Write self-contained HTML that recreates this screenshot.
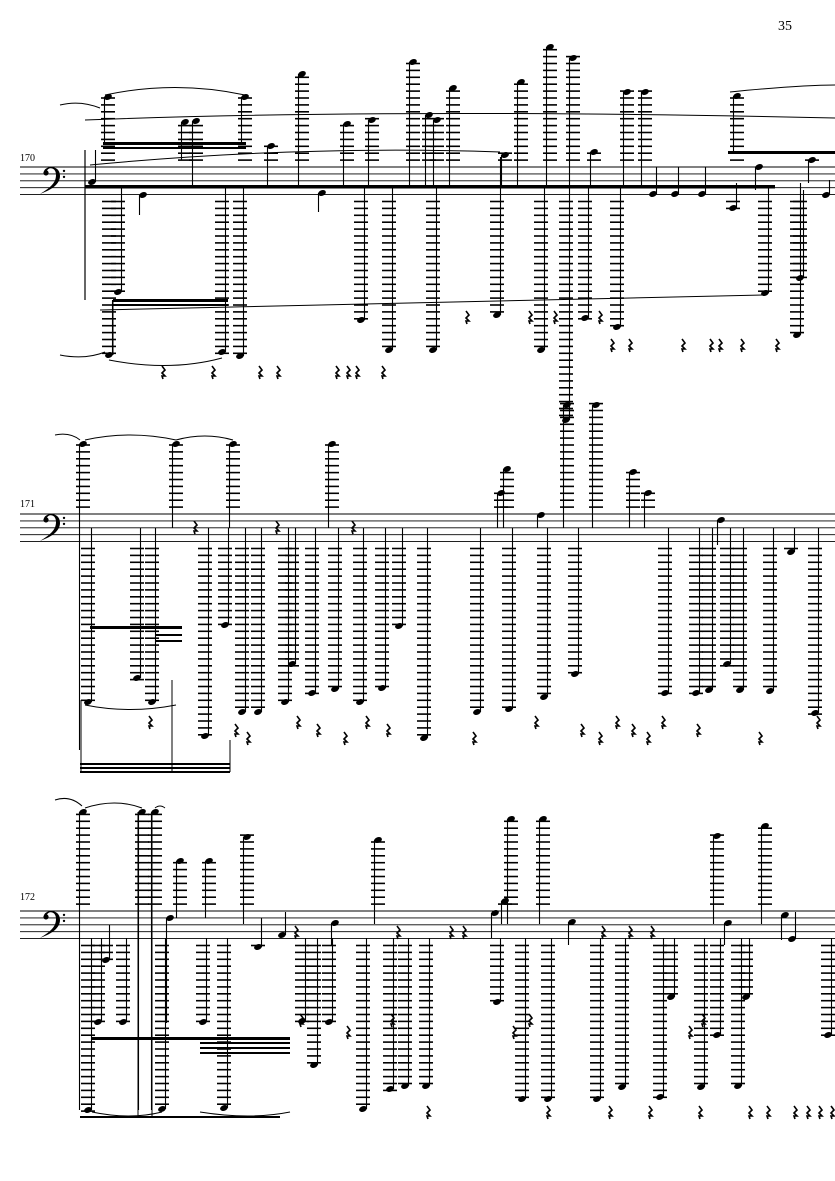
<!DOCTYPE html>
<html><head><meta charset="utf-8"><style>
html,body{margin:0;padding:0;background:#fff;width:835px;height:1181px;overflow:hidden}
svg{display:block}
text{font-family:"Liberation Serif",serif}
</style></head><body>
<svg id="s" width="835" height="1181" viewBox="0 0 835 1181" xmlns="http://www.w3.org/2000/svg">
<text x="778" y="30" font-size="14">35</text>
<text x="20" y="161" font-size="10">170</text>
<text x="20" y="507" font-size="10">171</text>
<text x="20" y="900" font-size="10">172</text>
</svg>
<script>
var S=document.getElementById('s'),ns='http://www.w3.org/2000/svg',h='';
var SP=6.9;
function L(x1,y1,x2,y2,w){h+='<line x1="'+x1+'" y1="'+y1+'" x2="'+x2+'" y2="'+y2+'" stroke="#000" stroke-width="'+(w||1)+'"/>';}
function staff(T){for(var i=0;i<5;i++)L(20,T+i*SP,835,T+i*SP,0.9);
 var c=T+SP;h+='<path d="M'+(44)+','+(c-2)+' C44,'+(c-8)+' 60,'+(c-10)+' 60,'+(c+2)+' C60,'+(c+10)+' 52,'+(c+16)+' 40,'+(c+20)+' C52,'+(c+13)+' 56,'+(c+8)+' 56,'+(c+1)+' C56,'+(c-7)+' 48,'+(c-7)+' 47,'+(c-3)+'Z" fill="#000"/><circle cx="46" cy="'+(c-1)+'" r="2.6"/><circle cx="64" cy="'+(c-3)+'" r="1.2"/><circle cx="64" cy="'+(c+3)+'" r="1.2"/>';}
function N(T,x,y,to){var B=T+4*SP;
 h+='<ellipse cx="'+x+'" cy="'+y+'" rx="4" ry="2.8" transform="rotate(-20 '+x+' '+y+')"/>';
 var sx=to<y?x+3.5:x-3.5;L(sx,y,sx,to,1.1);
 if(y<T-3){for(var ly=T-SP;ly>=y-2;ly-=SP)L(x-7,ly,x+7,ly,1.6);}
 if(y>B+3){for(var ly=B+SP;ly<=y+2;ly+=SP)L(x-7,ly,x+7,ly,1.6);}
}
function R(x,y){h+='<path d="M'+(x-1)+','+(y-6)+' l3,4 l-3,3 l3,3 l-3,0 l1,3" stroke="#000" stroke-width="1.6" fill="none"/>';}
function BM(x1,y,x2,t){h+='<rect x="'+x1+'" y="'+y+'" width="'+(x2-x1)+'" height="'+(t||3)+'"/>';}
function SL(d){h+='<path d="'+d+'" stroke="#000" stroke-width="1" fill="none"/>';}
// System 1
var T1=167;staff(T1);
[[108,97,145],[245,97,145],[302,74,187],[413,62,187],[453,88,187],[196,121,187],[271,146,187],[347,124,187],[372,120,187],[429,115,187],[437,120,187],[143,195,215],[322,193,212],[185,122,160],
[118,292,187],[109,355,300],[222,352,187],[240,356,187],[361,320,187],[389,350,187],[433,350,187],[497,315,157],[505,155,187],
[521,82,187],[550,47,187],[541,350,187],[573,58,187],[566,420,187],[594,152,187],[585,318,187],[627,92,187],[617,327,187],[645,92,187],
[737,96,152],[765,293,187],[800,278,190],[797,335,183],[826,195,180],[812,160,183],[653,194,167],[675,194,167],[702,194,167],[733,208,183],[759,167,190],[92,182,150]
].forEach(function(a){N(T1,a[0],a[1],a[2]);});
[163,213,260,278,337,348,357,383].forEach(function(x){R(x,372);});
[612,630,683,711,720,742,777].forEach(function(x){R(x,345);});
[467,530,555,600].forEach(function(x){R(x,317);});
BM(85,185,775,3.5);BM(103,142,246,3);BM(103,147,246,2);BM(113,299,228,3);BM(113,304,228,2);BM(728,151,835,3);L(85,150,85,300,1.2);L(113,300,113,355,1);
SL('M105,95 Q175,80 245,95');SL('M85,120 Q400,108 835,118');SL('M90,165 Q300,145 500,152');SL('M100,310 Q500,300 765,295');SL('M109,360 Q170,372 222,358');SL('M730,92 Q800,85 835,85');SL('M60,105 Q80,100 100,108');SL('M60,355 Q85,360 105,352');
// System 2
var T2=514;staff(T2);
[[83,444,750],[176,444,528],[233,444,528],[332,444,528],[501,493,528],[507,469,528],[541,515,528],[567,405,528],[596,405,528],[633,472,528],[648,493,528],[721,520,545],
[88,702,528],[137,678,528],[152,702,528],[205,736,528],[225,625,528],[242,712,528],[258,712,528],[285,702,528],[292,664,528],[312,693,528],[335,689,528],[360,702,528],[382,688,528],[399,626,528],[424,738,528],[477,712,528],[509,709,528],[544,697,528],[575,674,528],[665,693,528],[696,693,528],[709,690,528],[727,664,528],[740,690,528],[770,691,528],[791,552,528],[815,713,528]
].forEach(function(a){N(T2,a[0],a[1],a[2]);});
[195,277,353].forEach(function(x){R(x,527);});
[150,236,248,298,318,345,367,388,474,536,582,600,617,633,648,663,698,760,818].forEach(function(x,i){R(x,722+(i%3)*8);});
BM(90,626,182,3);BM(155,634,182,2);BM(155,640,182,2);BM(80,763,230,2);BM(80,767,230,2);BM(80,771,230,2);L(81,700,81,772,1);L(172,680,172,772,1);L(230,740,230,772,1);
SL('M85,440 Q130,430 176,440');SL('M176,440 Q205,432 233,440');SL('M85,705 Q130,714 176,705');SL('M55,435 Q70,432 80,440');
// System 3
var T3=911;staff(T3);
[[83,812,1110],[142,812,1110],[155,812,1110],[180,861,918],[209,861,918],[247,837,924],[378,840,924],[511,819,924],[543,819,924],[717,836,924],[765,826,924],
[170,918,1023],[106,960,925],[258,947,918],[282,935,912],[335,923,945],[505,901,924],[495,913,938],[572,922,945],[728,923,945],[785,915,940],[792,939,912],
[88,1110,938],[98,1022,938],[123,1022,938],[162,1109,938],[203,1022,938],[224,1108,938],[302,1021,938],[314,1065,938],[329,1022,938],[363,1109,938],[390,1089,938],[405,1086,938],[426,1086,938],[497,1002,938],[522,1099,938],[548,1099,938],[597,1099,938],[622,1087,938],[660,1097,938],[671,997,938],[701,1087,938],[717,1035,938],[738,1086,938],[746,997,938],[828,1035,938]
].forEach(function(a){N(T3,a[0],a[1],a[2]);});
[296,398,451,464,603,630,652].forEach(function(x){R(x,932);});
[301,348,392,514,530,690,703].forEach(function(x,i){R(x,1020+(i%2)*12);});
[428,548,610,650,700,750,768,795,808,820,832].forEach(function(x){R(x,1112);});
BM(92,1037,290,3);BM(200,1042,290,2);BM(200,1047,290,2);BM(200,1052,290,2);BM(80,1116,280,2);L(138,812,138,1118,1);L(152,812,152,1118,1);
SL('M85,808 Q115,798 142,808');SL('M155,808 Q160,804 165,808');SL('M92,1112 Q130,1120 162,1112');SL('M200,1112 Q250,1120 290,1112');SL('M55,800 Q70,795 82,806');
BM(60,780,20,3);
S.insertAdjacentHTML('beforeend',h);
</script>
</body></html>
